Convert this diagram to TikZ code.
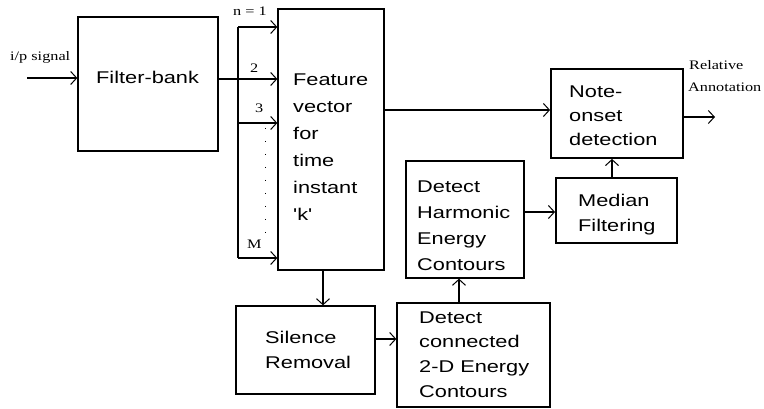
\documentclass[tikz,border=0pt]{standalone}
\usepackage{fontspec}
\usetikzlibrary{arrows.meta}
\newfontfamily\sfw{Liberation Sans}[FakeStretch=1.28]
\newfontfamily\rmw{Liberation Serif}[FakeStretch=1.25]
\tikzset{
  box/.style={draw, line width=1.3pt, minimum width=#1, inner sep=0pt},
  txt/.style={font=\sfw\fontsize{17}{25}\selectfont, align=left, anchor=base west, inner sep=0pt},
  lab/.style={font=\rmw\fontsize{13}{20}\selectfont, anchor=base west, inner sep=0pt},
  arr/.style={line width=1.2pt, -{Straight Barb[length=6pt,width=13pt,line width=1pt]}},
  ln/.style={line width=1.2pt},
}
\begin{document}
\begin{tikzpicture}[x=1pt,y=-1pt]
\useasboundingbox (0,0) rectangle (764,409);
% boxes
\node[box=140pt, minimum height=134pt] (fb) at (148,84) {};
\node[box=106pt, minimum height=261pt] (fv) at (331,139.5) {};
\node[box=132pt, minimum height=89pt, line width=1.8pt] (note) at (617,113.5) {};
\node[box=121pt, minimum height=65pt, line width=1.8pt] (med) at (616.5,210.5) {};
\node[box=118pt, minimum height=117pt] (harm) at (465,219.5) {};
\node[box=139pt, minimum height=88pt] (sil) at (305.5,350) {};
\node[box=153pt, minimum height=104pt] (det) at (473.5,355) {};
% texts (base anchor = baseline of last line)
\node[txt] (tfb) at (96,84) {Filter-bank};
\node[txt, font=\sfw\fontsize{17}{27}\selectfont] (tfv) at (293,221) {Feature\\vector\\for\\time\\instant\\'k'};
\node[txt, font=\sfw\fontsize{17}{24}\selectfont] (tnote) at (569,146) {Note-\\onset\\detection};
\node[txt] (tmed) at (578,232) {Median\\Filtering};
\node[txt, font=\sfw\fontsize{17}{26}\selectfont] (tharm) at (417,270) {Detect\\Harmonic\\Energy\\Contours};
\node[txt] (tsil) at (265,368) {Silence\\Removal};
\node[txt, font=\sfw\fontsize{17}{24.6}\selectfont] (tdet) at (419,397) {Detect\\connected\\2-D Energy\\Contours};
% serif labels
\node[lab] (lin) at (10,61) {i/p signal};
\node[lab] (l1) at (233,16) {n = 1};
\node[lab] (l2) at (250,73) {2};
\node[lab] (l3) at (255,113) {3};
\node[lab] (lM) at (247,248) {M};
\node[lab] (lrel) at (689,70) {Relative};
\node[lab] (lann) at (688,92) {Annotation};
% coordinates
\coordinate (in) at (27,78);
\coordinate (out) at (715,117);
\coordinate (b1) at (238,27);
\coordinate (b2) at (238,79);
\coordinate (b3) at (238,123);
\coordinate (bM) at (238,258);
% connectors
\draw[arr] (in) -- (fb.west |- in);
\draw[ln] (fb.east |- b2) -- (b2);
\draw[ln] (b1) -- (bM);
\draw[arr] (b1) -- (fv.west |- b1);
\draw[arr] (b2) -- (fv.west |- b2);
\draw[arr] (b3) -- (fv.west |- b3);
\draw[arr] (bM) -- (fv.west |- bM);
\draw[line width=1pt, dash pattern=on 1pt off 12pt] (265,128) -- (265,245);
\draw[arr] (fv.east |- 0,110) -- (note.west |- 0,110);
\draw[arr] (note.east |- out) -- (out);
\draw[arr] (med.north -| 612,0) -- (note.south -| 612,0);
\draw[arr] (harm.east |- 0,212) -- (med.west |- 0,212);
\draw[arr] (fv.south -| 323,0) -- (sil.north -| 323,0);
\draw[arr] (sil.east |- 0,339) -- (det.west |- 0,339);
\draw[arr] (det.north -| 459,0) -- (harm.south -| 459,0);
\end{tikzpicture}
\end{document}
